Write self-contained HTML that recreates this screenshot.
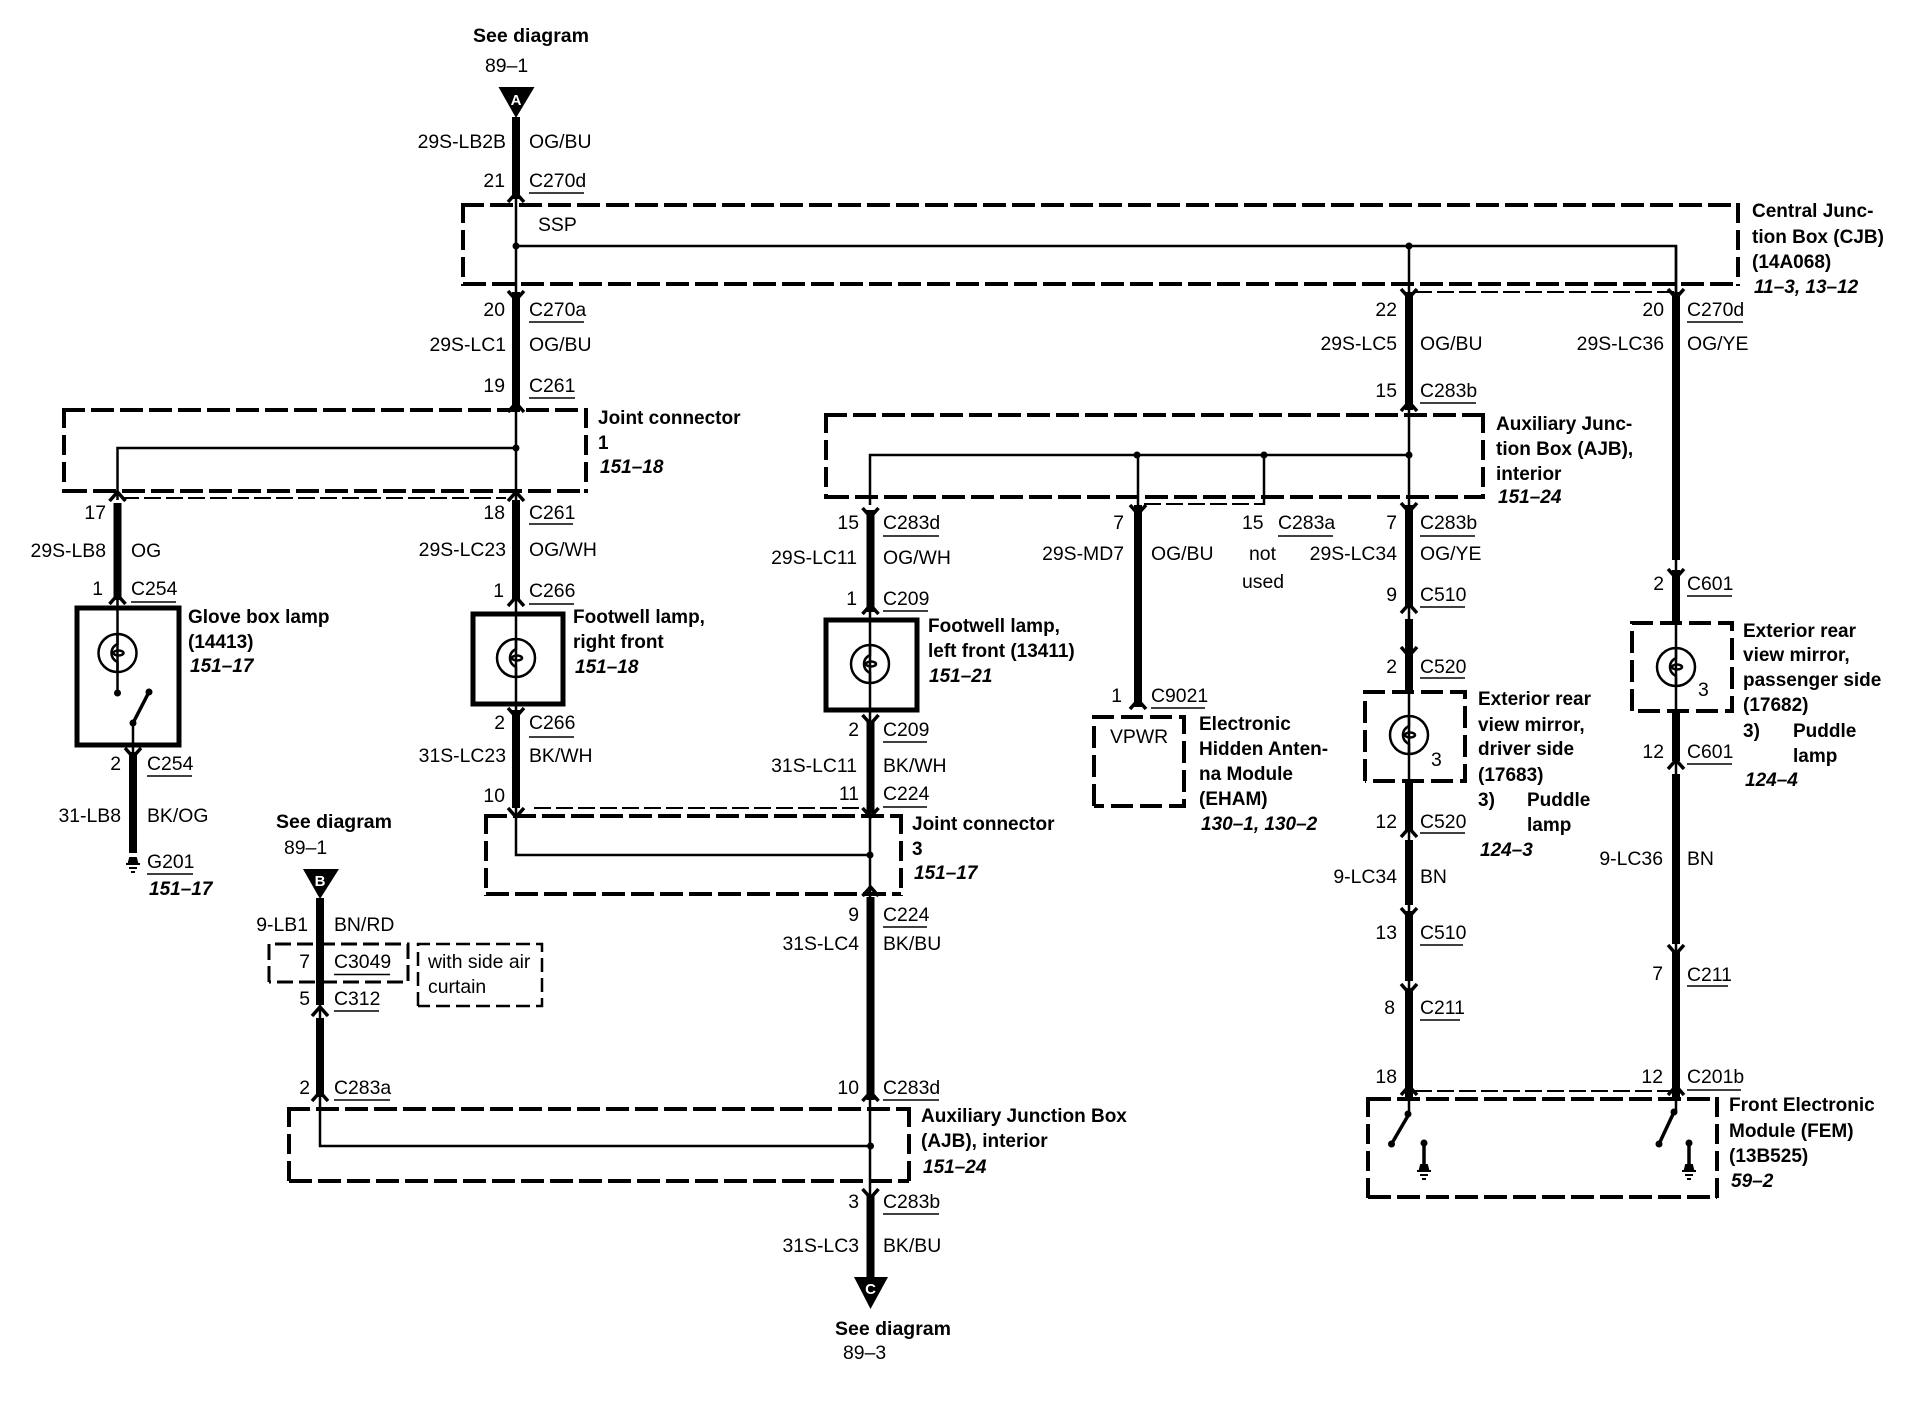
<!DOCTYPE html>
<html><head><meta charset="utf-8"><style>
html,body{margin:0;padding:0;background:#fff}
svg{display:block}
text{font-family:"Liberation Sans",Arial,sans-serif;font-size:19.4px;fill:#000}
.r{text-anchor:end;transform:translateX(1px)}
.b{font-weight:bold;font-size:19px}
.i{font-weight:bold;font-style:italic;font-size:19px}
.s{font-size:19.5px}
</style></head><body>
<svg width="1912" height="1408" viewBox="0 0 1912 1408" xmlns="http://www.w3.org/2000/svg">
<defs>
<path id="u" d="M-8,9L0,0L8,9" fill="none" stroke="#000" stroke-width="3.5"/>
<path id="d" d="M-8,-9L0,0L8,-9" fill="none" stroke="#000" stroke-width="3.5"/>
<g id="l" fill="none" stroke="#000" stroke-width="2.5"><circle r="19"/><path d="M0,-19V-9q-6,3 -6,9q0,6 6,9V19"/><ellipse cx="1" cy="0" rx="5" ry="2.5" stroke-width="2.5"/></g>
<g id="g" stroke="#000" stroke-width="2"><path d="M-3,0h6l1,4h-8z" fill="#000"/><path d="M-7,6h14M-4,10h8M-2,14h4"/></g>
</defs>

<!-- dashed boxes -->
<g fill="none" stroke="#000" stroke-width="4" stroke-dasharray="23 6">
<path d="M461,205H1738M463,284H1738"/>
<path d="M62,410H586M64,491H586"/>
<path d="M824,415H1483M826,497H1483"/>
<path d="M484,816H901M486,894H901"/>
<path d="M287,1109H909M289,1181H909"/>
<path d="M1368,1099H1717M1368,1197H1717"/>
</g>
<g fill="none" stroke="#000" stroke-width="4" stroke-dasharray="20 7">
<path d="M463,203V286M1738,203V286"/>
<path d="M64,408V493M586,408V493"/>
<path d="M826,413V499M1483,413V499"/>
<path d="M486,814V896M901,814V896"/>
<path d="M289,1107V1183M909,1107V1183"/>
<path d="M1368,1097V1199M1717,1097V1199"/>
</g>
<g fill="none" stroke="#000" stroke-width="4" stroke-dasharray="22 7">
<path d="M1094,806V717H1184V806H1094"/>
<path d="M1365,781V692H1465V781H1365"/>
<path d="M1632,711V623H1732V711H1632"/>
</g>
<g fill="none" stroke="#000" stroke-width="3" stroke-dasharray="16 6">
<path d="M269,982V944H408V982H269"/>
</g>
<g fill="none" stroke="#000" stroke-width="2.5" stroke-dasharray="14 6">
<path d="M418,1006V944H542V1006H418"/>
</g>
<g fill="none" stroke="#000" stroke-width="2" stroke-dasharray="17 5">
<path d="M1415,292H1674"/>
<path d="M122,498H506"/>
<path d="M1144,504H1264"/>
<path d="M534,808H860"/>
<path d="M1415,1091H1670"/>
</g>

<!-- solid component boxes -->
<g fill="none" stroke="#000" stroke-width="5">
<rect x="77" y="608" width="102" height="137"/>
<rect x="473" y="614" width="90" height="90"/>
<rect x="826" y="620" width="91" height="90"/>
</g>

<!-- thin wires -->
<g fill="none" stroke="#000" stroke-width="2.5">
<path d="M516,199V292M516,408V500M516,600V710M516,808V855H870"/>
<path d="M516,246H1676V292"/>
<path d="M1409,246V1114M1676,246V1112"/>
<path d="M516,448H117.5V500M117.5,600V693"/>
<path d="M870,505V455H1409M870,612V722M870,813V897M320,1097V1146H870M870,1097V1196"/>
<path d="M1138,455V505M1264,455V505"/>
<path d="M320,1000V1020"/>
<path d="M133,723V752"/>
</g>
<g fill="none" stroke="#000" stroke-width="3.5">
<path d="M149,692L133,723M1409,1114L1391.5,1144M1674,1112L1659,1144"/>
<path d="M1424,1143V1165M1689,1143V1165"/>
</g>

<!-- thick wires -->
<g fill="none" stroke="#000" stroke-width="8">
<path d="M516,117V199M516,292V408M516,500V600M516,710V808"/>
<path d="M117.5,503V600M133,752V853"/>
<path d="M320,898V1005M320,1018V1097"/>
<path d="M870.5,510V612M870.5,722V813M870.5,897V1100M870.5,1196V1280"/>
<path d="M1138,505V707"/>
<path d="M1409,292V410M1409,505V608M1409,619V692M1409,781V831M1409,840V905M1409,911V981M1409,988V1097"/>
<path d="M1676,292V560M1676,570V623M1676,711V761M1676,774V944M1676,950V1097"/>
</g>

<!-- arrowheads -->
<g>
<use href="#u" x="516" y="193"/><use href="#u" x="516" y="403"/><use href="#u" x="117.5" y="492"/><use href="#u" x="516" y="492"/>
<use href="#u" x="117.5" y="595"/><use href="#u" x="516" y="597"/><use href="#u" x="870.5" y="605"/><use href="#u" x="1138" y="700"/>
<use href="#u" x="870.5" y="887"/><use href="#u" x="870.5" y="1092"/><use href="#u" x="320" y="1092"/><use href="#u" x="320" y="1007"/>
<use href="#u" x="1409" y="402"/><use href="#u" x="1409" y="604"/><use href="#u" x="1409" y="828"/><use href="#u" x="1676" y="760"/>
<use href="#u" x="1409" y="1086"/><use href="#u" x="1676" y="1086"/>
<use href="#d" x="516" y="300"/><use href="#d" x="516" y="717"/><use href="#d" x="516" y="817"/><use href="#d" x="870.5" y="817"/>
<use href="#d" x="870.5" y="517"/><use href="#d" x="1138" y="514"/><use href="#d" x="1409" y="298"/><use href="#d" x="1676" y="298"/>
<use href="#d" x="1409" y="512"/><use href="#d" x="1676" y="578"/><use href="#d" x="1409" y="656"/><use href="#d" x="1409" y="917"/>
<use href="#d" x="1409" y="993"/><use href="#d" x="1676" y="954"/><use href="#d" x="133" y="757"/><use href="#d" x="870.5" y="724"/><use href="#d" x="870.5" y="1198"/>
</g>

<!-- junction dots -->
<g fill="#000">
<circle cx="516" cy="246" r="3.5"/><circle cx="1409" cy="246" r="3.5"/><circle cx="516" cy="448" r="3.5"/>
<circle cx="1137" cy="455" r="3.5"/><circle cx="1264" cy="455" r="3.5"/><circle cx="1409" cy="455" r="3.5"/>
<circle cx="870" cy="855" r="3.5"/><circle cx="870.5" cy="1146" r="3.5"/>
<circle cx="117.5" cy="693" r="3.5"/><circle cx="149" cy="692" r="3.5"/><circle cx="133" cy="723" r="3.5"/>
<circle cx="1408" cy="1114" r="3.5"/><circle cx="1391.5" cy="1144" r="3.5"/><circle cx="1424" cy="1143" r="3.5"/>
<circle cx="1674" cy="1112" r="3.5"/><circle cx="1659" cy="1144" r="3.5"/><circle cx="1689" cy="1143" r="3.5"/>
<path d="M498.5,87H534.5L516,118Z"/>
<path d="M303,869H339L320,899Z"/>
<path d="M854,1277H888L870.5,1309Z"/>
</g>

<!-- lamps and grounds -->
<use href="#l" x="117.5" y="653"/><use href="#l" x="516" y="658"/><use href="#l" x="870" y="664"/>
<use href="#l" x="1409" y="735"/><use href="#l" x="1676" y="667"/>
<use href="#g" x="133" y="858"/><use href="#g" x="1424" y="1165"/><use href="#g" x="1689" y="1165"/>

<!-- connector underlines -->
<g stroke="#000" stroke-width="1.5" fill="none">
<path d="M529,193H584M529,322H584M529,398H575M529,524H573M529,604H574M529,737H574"/>
<path d="M131,602H176M147,776H192M147,874H193"/>
<path d="M883,536H939M883,611H928M883,742H927M883,807H927M883,927H927M883,1100H939M883,1214H939"/>
<path d="M1151,708H1205M1278,536H1333"/>
<path d="M1420,403H1476M1420,536H1475M1420,607H1465M1420,678H1465M1420,833H1465M1420,945H1463M1420,1020H1460"/>
<path d="M1687,322H1743M1687,596H1732M1687,764H1732M1687,986H1728M1687,1090H1741"/>
<path d="M334,974.5H390M334,1011H379M334,1100H390"/>
</g>

<!-- triangle letters -->
<text x="516" y="105" text-anchor="middle" class="b" style="font-size:15px;fill:#fff">A</text>
<text x="320" y="886" text-anchor="middle" class="b" style="font-size:15px;fill:#fff">B</text>
<text x="870.5" y="1294" text-anchor="middle" class="b" style="font-size:15px;fill:#fff">C</text>

<!-- off-page labels -->
<text x="473" y="42" class="b s">See diagram</text><text x="485" y="72">89–1</text>
<text x="276" y="828" class="b s">See diagram</text><text x="284" y="854">89–1</text>
<text x="835" y="1335" class="b s">See diagram</text><text x="843" y="1359">89–3</text>

<!-- wire 516 -->
<text x="505" y="148" class="r">29S-LB2B</text><text x="529" y="148">OG/BU</text>
<text x="504" y="187" class="r">21</text><text x="529" y="187">C270d</text>
<text x="538" y="231">SSP</text>
<text x="504" y="316" class="r">20</text><text x="529" y="316">C270a</text>
<text x="505" y="351" class="r">29S-LC1</text><text x="529" y="351">OG/BU</text>
<text x="504" y="392" class="r">19</text><text x="529" y="392">C261</text>
<text x="504" y="519" class="r">18</text><text x="529" y="519">C261</text>
<text x="505" y="556" class="r">29S-LC23</text><text x="529" y="556">OG/WH</text>
<text x="503" y="597" class="r">1</text><text x="529" y="597">C266</text>
<text x="504" y="729" class="r">2</text><text x="529" y="729">C266</text>
<text x="505" y="762" class="r">31S-LC23</text><text x="529" y="762">BK/WH</text>
<text x="504" y="802" class="r">10</text>

<!-- glove box -->
<text x="105" y="519" class="r">17</text>
<text x="105" y="557" class="r">29S-LB8</text><text x="131" y="557">OG</text>
<text x="102" y="595" class="r">1</text><text x="131" y="595">C254</text>
<text x="120" y="770" class="r">2</text><text x="147" y="770">C254</text>
<text x="120" y="822" class="r">31-LB8</text><text x="147" y="822">BK/OG</text>
<text x="147" y="868">G201</text><text x="149" y="895" class="i">151–17</text>
<text x="188" y="623" class="b">Glove box lamp</text><text x="188" y="648" class="b">(14413)</text><text x="190" y="672" class="i">151–17</text>

<text x="598" y="424" class="b">Joint connector</text><text x="598" y="449" class="b">1</text><text x="600" y="473" class="i">151–18</text>
<text x="573" y="623" class="b">Footwell lamp,</text><text x="573" y="648" class="b">right front</text><text x="575" y="673" class="i">151–18</text>

<!-- wire 870 -->
<text x="858" y="529" class="r">15</text><text x="883" y="529">C283d</text>
<text x="856" y="564" class="r">29S-LC11</text><text x="883" y="564">OG/WH</text>
<text x="856" y="605" class="r">1</text><text x="883" y="605">C209</text>
<text x="928" y="632" class="b">Footwell lamp,</text><text x="928" y="657" class="b">left front (13411)</text><text x="929" y="682" class="i">151–21</text>
<text x="858" y="736" class="r">2</text><text x="883" y="736">C209</text>
<text x="856" y="772" class="r">31S-LC11</text><text x="883" y="772">BK/WH</text>
<text x="858" y="800" class="r">11</text><text x="883" y="800">C224</text>
<text x="912" y="830" class="b">Joint connector</text><text x="912" y="855" class="b">3</text><text x="914" y="879" class="i">151–17</text>
<text x="858" y="921" class="r">9</text><text x="883" y="921">C224</text>
<text x="858" y="950" class="r">31S-LC4</text><text x="883" y="950">BK/BU</text>
<text x="858" y="1094" class="r">10</text><text x="883" y="1094">C283d</text>
<text x="858" y="1208" class="r">3</text><text x="883" y="1208">C283b</text>
<text x="858" y="1252" class="r">31S-LC3</text><text x="883" y="1252">BK/BU</text>
<text x="921" y="1122" class="b">Auxiliary Junction Box</text><text x="921" y="1147" class="b">(AJB), interior</text><text x="923" y="1173" class="i">151–24</text>

<!-- wire B -->
<text x="307" y="931" class="r">9-LB1</text><text x="334" y="931">BN/RD</text>
<text x="309" y="968" class="r">7</text><text x="334" y="968">C3049</text>
<text x="428" y="968">with side air</text><text x="428" y="993">curtain</text>
<text x="309" y="1005" class="r">5</text><text x="334" y="1005">C312</text>
<text x="309" y="1094" class="r">2</text><text x="334" y="1094">C283a</text>

<!-- wire 1138 -->
<text x="1123" y="529" class="r">7</text>
<text x="1123" y="560" class="r">29S-MD7</text><text x="1151" y="560">OG/BU</text>
<text x="1121" y="702" class="r">1</text><text x="1151" y="702">C9021</text>
<text x="1110" y="743">VPWR</text>
<text x="1199" y="730" class="b">Electronic</text><text x="1199" y="755" class="b">Hidden Anten-</text><text x="1199" y="780" class="b">na Module</text><text x="1199" y="805" class="b">(EHAM)</text><text x="1201" y="830" class="i">130–1, 130–2</text>
<text x="1242" y="529">15</text><text x="1278" y="529">C283a</text>
<text x="1249" y="560">not</text><text x="1242" y="588">used</text>

<!-- wire 1409 -->
<text x="1396" y="316" class="r">22</text>
<text x="1396" y="350" class="r">29S-LC5</text><text x="1420" y="350">OG/BU</text>
<text x="1396" y="397" class="r">15</text><text x="1420" y="397">C283b</text>
<text x="1496" y="430" class="b">Auxiliary Junc-</text><text x="1496" y="455" class="b">tion Box (AJB),</text><text x="1496" y="480" class="b">interior</text><text x="1498" y="503" class="i">151–24</text>
<text x="1396" y="529" class="r">7</text><text x="1420" y="529">C283b</text>
<text x="1396" y="560" class="r">29S-LC34</text><text x="1420" y="560">OG/YE</text>
<text x="1396" y="601" class="r">9</text><text x="1420" y="601">C510</text>
<text x="1396" y="673" class="r">2</text><text x="1420" y="673">C520</text>
<text x="1431" y="766">3</text>
<text x="1478" y="705" class="b">Exterior rear</text><text x="1478" y="731" class="b">view mirror,</text><text x="1478" y="755" class="b">driver side</text><text x="1478" y="781" class="b">(17683)</text>
<text x="1478" y="806" class="b">3)</text><text x="1527" y="806" class="b">Puddle</text><text x="1527" y="831" class="b">lamp</text><text x="1480" y="856" class="i">124–3</text>
<text x="1396" y="828" class="r">12</text><text x="1420" y="828">C520</text>
<text x="1396" y="883" class="r">9-LC34</text><text x="1420" y="883">BN</text>
<text x="1396" y="939" class="r">13</text><text x="1420" y="939">C510</text>
<text x="1394" y="1014" class="r">8</text><text x="1420" y="1014">C211</text>
<text x="1396" y="1083" class="r">18</text>

<!-- wire 1676 -->
<text x="1663" y="316" class="r">20</text><text x="1687" y="316">C270d</text>
<text x="1663" y="350" class="r">29S-LC36</text><text x="1687" y="350">OG/YE</text>
<text x="1663" y="590" class="r">2</text><text x="1687" y="590">C601</text>
<text x="1698" y="696">3</text>
<text x="1743" y="637" class="b">Exterior rear</text><text x="1743" y="661" class="b">view mirror,</text><text x="1743" y="686" class="b">passenger side</text><text x="1743" y="711" class="b">(17682)</text>
<text x="1743" y="737" class="b">3)</text><text x="1793" y="737" class="b">Puddle</text><text x="1793" y="762" class="b">lamp</text><text x="1745" y="786" class="i">124–4</text>
<text x="1663" y="758" class="r">12</text><text x="1687" y="758">C601</text>
<text x="1662" y="865" class="r">9-LC36</text><text x="1687" y="865">BN</text>
<text x="1662" y="980" class="r">7</text><text x="1687" y="981">C211</text>
<text x="1662" y="1083" class="r">12</text><text x="1687" y="1083">C201b</text>

<text x="1752" y="217" class="b">Central Junc-</text><text x="1752" y="243" class="b">tion Box (CJB)</text><text x="1752" y="268" class="b">(14A068)</text><text x="1754" y="293" class="i">11–3, 13–12</text>
<text x="1729" y="1111" class="b">Front Electronic</text><text x="1729" y="1137" class="b">Module (FEM)</text><text x="1729" y="1162" class="b">(13B525)</text><text x="1731" y="1187" class="i">59–2</text>
</svg>
</body></html>
